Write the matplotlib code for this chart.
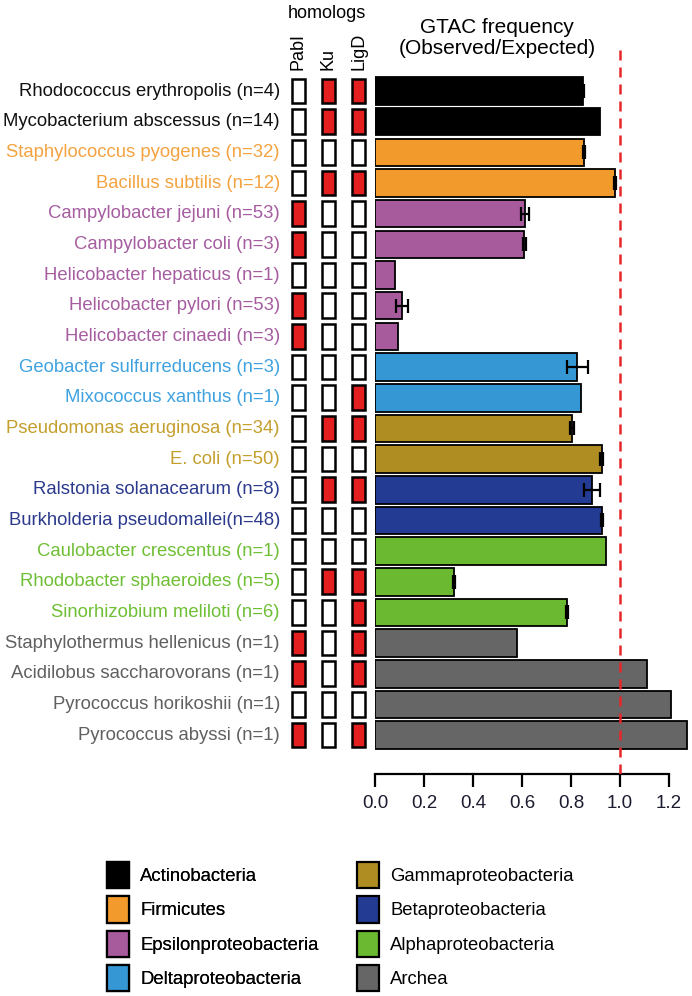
import matplotlib
matplotlib.use("Agg")
import matplotlib.pyplot as plt
from matplotlib.patches import Patch
import numpy as np

plt.rcParams['font.family'] = ['Liberation Sans', 'DejaVu Sans']

# ---- data --------------------------------------------------------------
species = [
    "Rhodococcus erythropolis (n=4)",
    "Mycobacterium abscessus (n=14)",
    "Staphylococcus pyogenes (n=32)",
    "Bacillus subtilis (n=12)",
    "Campylobacter jejuni (n=53)",
    "Campylobacter coli (n=3)",
    "Helicobacter hepaticus (n=1)",
    "Helicobacter pylori (n=53)",
    "Helicobacter cinaedi (n=3)",
    "Geobacter sulfurreducens (n=3)",
    "Mixococcus xanthus (n=1)",
    "Pseudomonas aeruginosa (n=34)",
    "E. coli (n=50)",
    "Ralstonia solanacearum (n=8)",
    "Burkholderia pseudomallei(n=48)",
    "Caulobacter crescentus (n=1)",
    "Rhodobacter sphaeroides (n=5)",
    "Sinorhizobium meliloti (n=6)",
    "Staphylothermus hellenicus (n=1)",
    "Acidilobus saccharovorans (n=1)",
    "Pyrococcus horikoshii (n=1)",
    "Pyrococcus abyssi (n=1)",
]
group = ["Actinobacteria", "Actinobacteria", "Firmicutes", "Firmicutes",
         "Epsilonproteobacteria", "Epsilonproteobacteria", "Epsilonproteobacteria",
         "Epsilonproteobacteria", "Epsilonproteobacteria",
         "Deltaproteobacteria", "Deltaproteobacteria",
         "Gammaproteobacteria", "Gammaproteobacteria",
         "Betaproteobacteria", "Betaproteobacteria",
         "Alphaproteobacteria", "Alphaproteobacteria", "Alphaproteobacteria",
         "Archea", "Archea", "Archea", "Archea"]
gtac = [0.85, 0.92, 0.853, 0.98, 0.611, 0.61, 0.082, 0.109, 0.093, 0.826, 0.841,
        0.805, 0.925, 0.887, 0.925, 0.943, 0.322, 0.782, 0.578, 1.111, 1.207, 1.272]
gtac_err = [0.005, 0.0, 0.006, 0.004, 0.016, 0.006, 0.0, 0.024, 0.0, 0.044, 0.0,
            0.008, 0.006, 0.033, 0.004, 0.0, 0.004, 0.004, 0.0, 0.0, 0.0, 0.0]
homolog_names = ["PabI", "Ku", "LigD"]
# 1 = homolog present (red), 0 = absent (white)
pabl = [0, 0, 0, 0, 1, 1, 0, 1, 1, 0, 0, 0, 0, 0, 0, 0, 0, 0, 1, 1, 0, 1]
ku   = [1, 1, 0, 1, 0, 0, 0, 0, 0, 0, 0, 1, 0, 1, 0, 0, 1, 0, 0, 0, 0, 0]
ligd = [1, 1, 0, 1, 0, 0, 0, 0, 0, 0, 1, 1, 0, 1, 0, 0, 1, 1, 1, 1, 0, 1]

groups = ["Actinobacteria", "Firmicutes", "Epsilonproteobacteria", "Deltaproteobacteria",
          "Gammaproteobacteria", "Betaproteobacteria", "Alphaproteobacteria", "Archea"]
fill_colors = ["#000000", "#F29A2B", "#A75A9C", "#3597D3",
               "#B08D22", "#233B93", "#6BB930", "#666666"]
text_colors = ["#111111", "#F4A340", "#A55DA0", "#3FA2E0",
               "#C49F2C", "#2B3A8C", "#6FBF35", "#606060"]

fill_map = dict(zip(groups, fill_colors))
text_map = dict(zip(groups, text_colors))

# ---- layout ------------------------------------------------------------
W, H = 692, 996
fig = plt.figure(figsize=(W / 100, H / 100), dpi=100)

n = len(species)
y = np.arange(n)
row_px = 30.67
top_px, bot_px = 50, 774
y_top = -(91 - top_px) / row_px
y_bot = (bot_px - 91) / row_px


def px_axes(x0, x1):
    return fig.add_axes([x0 / W, 1 - bot_px / H, (x1 - x0) / W, (bot_px - top_px) / H])


# main bar panel
ax = px_axes(375, 690)
ax.set_xlim(0, 315 / 245)
ax.set_ylim(y_bot, y_top)
colors = [fill_map[g] for g in group]
ax.barh(y, gtac, height=0.9, color=colors, edgecolor="black", linewidth=1.3, zorder=2)
has_err = [i for i in range(n) if gtac_err[i] > 0]
ax.errorbar([gtac[i] for i in has_err], [y[i] for i in has_err],
            xerr=[gtac_err[i] for i in has_err], fmt="none", ecolor="black",
            elinewidth=1.6, capsize=5, capthick=1.6, zorder=3)
ax.axvline(1.0, color="#E8262A", linestyle=(0, (4, 2.8)), linewidth=1.8, zorder=4)

for s in ["top", "right", "left"]:
    ax.spines[s].set_visible(False)
ax.spines["bottom"].set_bounds(0, 1.2)
ax.spines["bottom"].set_linewidth(1.6)
ax.set_yticks([])
ax.set_xticks(np.arange(0, 1.21, 0.2))
ax.set_xticklabels([f"{v:.1f}" for v in np.arange(0, 1.21, 0.2)])
ax.tick_params(axis="x", length=9, width=1.6, labelsize=13.5, pad=6, labelcolor="#1c1c30")

ax.text(0.498, -1.73, "GTAC frequency\n(Observed/Expected)",
        ha="center", va="center", fontsize=15, linespacing=1.15)

# homolog panel
hx = px_axes(283, 374)
hx.set_xlim(0, 3)
hx.set_ylim(y_bot, y_top)
hx.axis("off")
for j, vals in enumerate([pabl, ku, ligd]):
    cols = ["#E41F1F" if v else "white" for v in vals]
    hx.barh(y, [0.43] * n, left=j + 0.5 - 0.215, height=0.8, color=cols,
            edgecolor="black", linewidth=1.8)
    hx.text(j + 0.5, y_top + 0.65, homolog_names[j], rotation=90, ha="center", va="bottom",
            fontsize=13)
hx.text(1.45, -2.8, "homologs", ha="center", va="top", fontsize=13)

# species labels
for i, (name, g) in enumerate(zip(species, group)):
    hx.text(-0.1, i, name, ha="right", va="center", fontsize=13.3, color=text_map[g])

# legend, two columns
handles = [Patch(facecolor=c, edgecolor="black", linewidth=1.6) for c in fill_colors]
leg_kw = dict(loc="upper left", frameon=False, fontsize=13.3, handlelength=1.2,
              handleheight=1.8, handletextpad=0.6, labelspacing=0.45,
              borderpad=0, borderaxespad=0)
leg1 = fig.legend(handles[:4], groups[:4], bbox_to_anchor=(107 / W, 1 - 862 / H), **leg_kw)
fig.legend(handles[4:], groups[4:], bbox_to_anchor=(357 / W, 1 - 862 / H), **leg_kw)
fig.add_artist(leg1)

fig.savefig("out.png", dpi=100)
